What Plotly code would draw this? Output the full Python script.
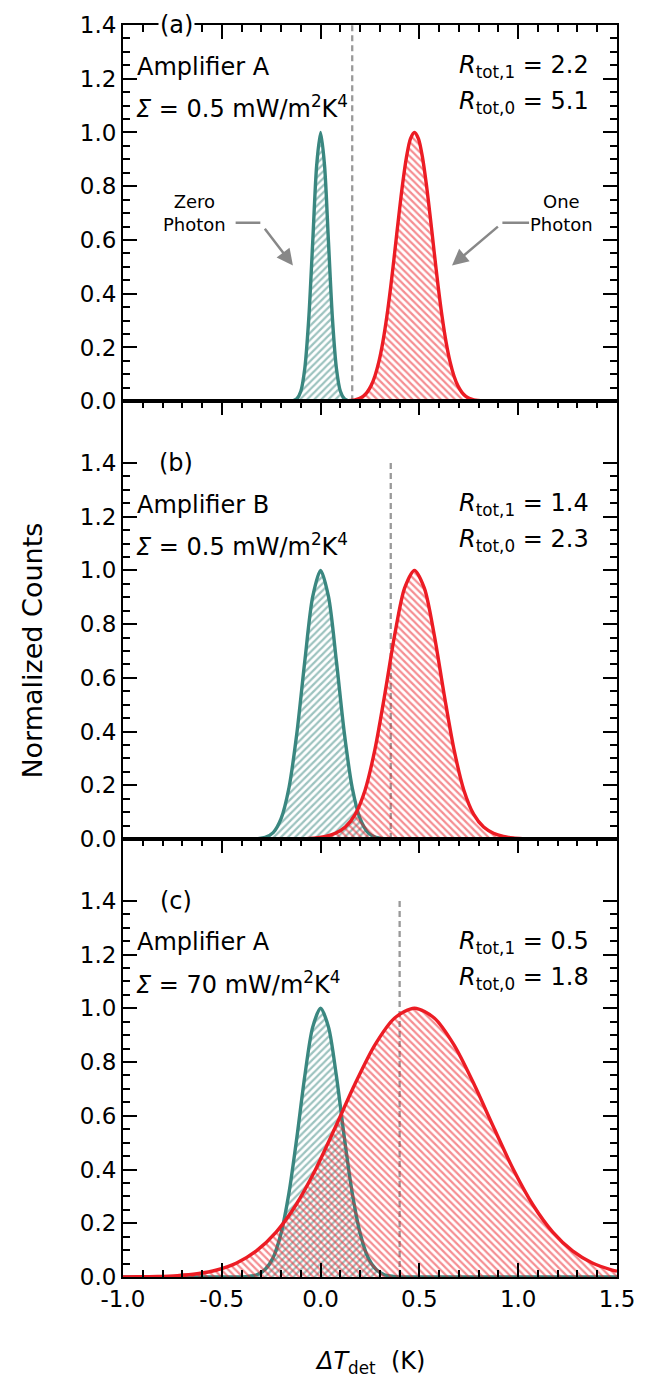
import plotly.graph_objects as go

# ---------------- data ----------------
X_RANGE = [-1.0, 1.5]
Y_TICKS = [0.0, 0.2, 0.4, 0.6, 0.8, 1.0, 1.2, 1.4]
Y_TICK_TEXT = ["0.0", "0.2", "0.4", "0.6", "0.8", "1.0", "1.2", "1.4"]
Y_MINOR = [0.05, 0.1, 0.15, 0.25, 0.3, 0.35, 0.45, 0.5, 0.55, 0.65, 0.7, 0.75,
           0.85, 0.9, 0.95, 1.05, 1.1, 1.15, 1.25, 1.3, 1.35]
X_TICKS = [-1.0, -0.5, 0.0, 0.5, 1.0, 1.5]
X_TICK_TEXT = ["-1.0", "-0.5", "0.0", "0.5", "1.0", "1.5"]

# (a) Amplifier A, Sigma = 0.5 mW/m^2K^4
a_zero_x = [-1.0, -0.30, -0.16, -0.14, -0.12, -0.10, -0.08, -0.06, -0.04, -0.02, 0.0,
            0.02, 0.04, 0.06, 0.08, 0.10, 0.12, 0.14, 0.16, 0.30, 1.5]
a_zero_y = [0.0, 0.0, 0.0, 0.0016, 0.009, 0.037, 0.122, 0.306, 0.591, 0.877, 1.0,
            0.877, 0.591, 0.306, 0.122, 0.037, 0.009, 0.0016, 0.0, 0.0, 0.0]
a_one_x = [0.115, 0.155, 0.175, 0.195, 0.215, 0.235, 0.255, 0.275, 0.295, 0.315, 0.335,
           0.355, 0.375, 0.395, 0.415, 0.435, 0.455, 0.475, 0.495, 0.515, 0.535,
           0.555, 0.575, 0.595, 0.615, 0.635, 0.655, 0.675, 0.695, 0.715, 0.735,
           0.755, 0.775, 0.795, 0.835]
a_one_y = [0.0, 0.0024, 0.005, 0.0097, 0.018, 0.033, 0.057, 0.094, 0.147, 0.220, 0.314,
           0.427, 0.554, 0.685, 0.808, 0.910, 0.977, 1.0, 0.977, 0.910, 0.808,
           0.685, 0.554, 0.427, 0.314, 0.220, 0.147, 0.094, 0.057, 0.033, 0.018,
           0.0097, 0.005, 0.0024, 0.0]
a_threshold = 0.16

# (b) Amplifier B, Sigma = 0.5 mW/m^2K^4
b_zero_x = [-1.0, -0.50, -0.36, -0.32, -0.28, -0.24, -0.20, -0.16, -0.12, -0.08, -0.04, 0.0,
            0.04, 0.08, 0.12, 0.16, 0.20, 0.24, 0.28, 0.32, 0.36, 0.50, 1.5]
b_zero_y = [0.0, 0.0, 0.0, 0.0013, 0.0063, 0.024, 0.076, 0.191, 0.395, 0.662, 0.902, 1.0,
            0.902, 0.662, 0.395, 0.191, 0.076, 0.024, 0.0063, 0.0013, 0.0, 0.0, 0.0]
b_one_x = [-1.0, -0.30, -0.125, -0.075, -0.025, 0.025, 0.075, 0.125, 0.175, 0.225, 0.275,
           0.325, 0.375, 0.425, 0.475, 0.525, 0.575, 0.625, 0.675, 0.725, 0.775,
           0.825, 0.875, 0.925, 0.975, 1.025, 1.075, 1.25, 1.5]
b_one_y = [0.0, 0.0, 0.0, 0.0015, 0.004, 0.010, 0.022, 0.045, 0.092, 0.182, 0.334,
           0.539, 0.760, 0.934, 1.0, 0.934, 0.760, 0.539, 0.334, 0.182, 0.092,
           0.045, 0.022, 0.010, 0.004, 0.0015, 0.0, 0.0, 0.0]
b_threshold = 0.355

# (c) Amplifier A, Sigma = 70 mW/m^2K^4
c_zero_x = [-1.0, -0.60, -0.44, -0.40, -0.36, -0.32, -0.28, -0.24, -0.20, -0.16, -0.12, -0.08,
            -0.04, 0.0, 0.04, 0.08, 0.12, 0.16, 0.20, 0.24, 0.28, 0.32, 0.36, 0.40,
            0.44, 0.60, 1.5]
c_zero_y = [0.0, 0.0, 0.0, 0.0, 0.0028, 0.0095, 0.029, 0.073, 0.163, 0.313, 0.520, 0.748,
            0.930, 1.0, 0.930, 0.748, 0.520, 0.313, 0.163, 0.073, 0.029, 0.0095, 0.0028, 0.0,
            0.0, 0.0, 0.0]
c_one_x = [-1.0, -0.925, -0.825, -0.725, -0.625, -0.525, -0.425, -0.325, -0.225, -0.125,
           -0.025, 0.075, 0.175, 0.275, 0.375, 0.475, 0.575, 0.675, 0.775, 0.875,
           0.975, 1.075, 1.175, 1.275, 1.375, 1.475, 1.5]
c_one_y = [0.0004, 0.0008, 0.0021, 0.0052, 0.012, 0.026, 0.052, 0.097, 0.167, 0.268,
           0.401, 0.558, 0.720, 0.864, 0.964, 1.0, 0.964, 0.864, 0.720, 0.558,
           0.401, 0.268, 0.167, 0.097, 0.052, 0.026, 0.0216]
c_threshold = 0.40

THRESHOLD_SPAN = [0.0, 1.4]

# ---------------- styling ----------------
TEAL = "#3a8780"
RED = "#ec1c24"
GRAY = "#999999"
ARROW_GRAY = "#888888"
FONT = "DejaVu Sans"

W, H = 647, 1378
M_L, M_R, M_T, M_B = 123, 20, 19, 101
plot_h = H - M_T - M_B
px_per_unit = 270.0
h_a = 1.4 * px_per_unit
h_bc = (plot_h - h_a) / 2.0
dom_c = [0.0, h_bc / plot_h]
dom_b = [h_bc / plot_h, 2 * h_bc / plot_h]
dom_a = [2 * h_bc / plot_h, 1.0]
top_bc = h_bc / px_per_unit

fig = go.Figure()

panels = [
    ("x", "y", a_zero_x, a_zero_y, a_one_x, a_one_y, a_threshold),
    ("x2", "y2", b_zero_x, b_zero_y, b_one_x, b_one_y, b_threshold),
    ("x3", "y3", c_zero_x, c_zero_y, c_one_x, c_one_y, c_threshold),
]

for xr, yr, zx, zy, ox, oy, thr in panels:
    # decision threshold
    fig.add_trace(go.Scatter(
        x=[thr, thr], y=THRESHOLD_SPAN, xaxis=xr, yaxis=yr, mode="lines",
        line=dict(color=GRAY, width=2.3, dash="6px,4px"), hoverinfo="skip"))
    # zero-photon distribution
    fig.add_trace(go.Scatter(
        x=zx, y=zy, xaxis=xr, yaxis=yr, mode="lines",
        line=dict(color=TEAL, width=3.4, shape="spline", smoothing=0.8),
        fill="tozeroy", fillcolor="rgba(0,0,0,0)",
        fillpattern=dict(shape="/", fgcolor=TEAL, bgcolor="rgba(0,0,0,0)",
                         size=5, solidity=0.45),
        hoverinfo="skip"))
    # one-photon distribution
    fig.add_trace(go.Scatter(
        x=ox, y=oy, xaxis=xr, yaxis=yr, mode="lines",
        line=dict(color=RED, width=3.4, shape="spline", smoothing=0.8),
        fill="tozeroy", fillcolor="rgba(0,0,0,0)",
        fillpattern=dict(shape="\\", fgcolor=RED, bgcolor="rgba(0,0,0,0)",
                         size=5, solidity=0.45),
        hoverinfo="skip"))

tick_font = dict(family=FONT, size=23, color="black")

def x_axis(anchor, bottom):
    ax = dict(
        domain=[0, 1], anchor=anchor, range=X_RANGE,
        showgrid=False, zeroline=False,
        showline=True, linewidth=2, linecolor="black",
        ticks="inside", ticklen=14, tickwidth=1.5, tickcolor="black",
        tickvals=X_TICKS, ticktext=X_TICK_TEXT,
        minor=dict(dtick=0.1, tick0=0, ticks="inside", ticklen=7,
                   tickwidth=1.5, tickcolor="black"),
        tickfont=tick_font,
    )
    if bottom:
        ax.update(side="bottom", mirror="ticks", showticklabels=True)
    else:
        ax.update(side="top", mirror=True, showticklabels=False)
    return ax

def y_axis(anchor, domain, top):
    return dict(
        domain=domain, anchor=anchor, range=[0, top],
        showgrid=False, zeroline=False,
        showline=True, linewidth=2, linecolor="black", mirror="ticks",
        ticks="inside", ticklen=14, tickwidth=1.5, tickcolor="black",
        tickvals=Y_TICKS, ticktext=Y_TICK_TEXT,
        minor=dict(tickvals=Y_MINOR, ticks="inside", ticklen=7,
                   tickwidth=1.5, tickcolor="black"),
        tickfont=tick_font,
    )

fig.update_layout(
    width=W, height=H,
    margin=dict(l=M_L, r=M_R, t=M_T, b=M_B, pad=0),
    paper_bgcolor="white", plot_bgcolor="white",
    showlegend=False,
    font=dict(family=FONT, size=23, color="black"),
    xaxis=x_axis("y", False),
    xaxis2=x_axis("y2", False),
    xaxis3=x_axis("y3", True),
    yaxis=y_axis("x", dom_a, 1.4),
    yaxis2=y_axis("x2", dom_b, top_bc),
    yaxis3=y_axis("x3", dom_c, top_bc),
)

ann_font = dict(family=FONT, size=24, color="black")
small_font = dict(family=FONT, size=18, color="black")
annotations = []

labels = [
    ("x", "y", "(a)", "Amplifier A", "0.5", "2.2", "5.1"),
    ("x2", "y2", "(b)", "Amplifier B", "0.5", "1.4", "2.3"),
    ("x3", "y3", "(c)", "Amplifier A", "70", "0.5", "1.8"),
]
for xr, yr, tag, amp, sig, r1, r0 in labels:
    annotations += [
        dict(xref=xr, yref=yr, x=-0.73, y=1.4, text=tag, showarrow=False,
             xanchor="center", yanchor="middle", font=ann_font,
             bgcolor="white" if xr == "x" else "rgba(0,0,0,0)", borderpad=1),
        dict(xref=xr, yref=yr, x=-0.94, y=1.245, text=amp, showarrow=False,
             xanchor="left", yanchor="middle", font=ann_font),
        dict(xref=xr, yref=yr, x=-0.945, y=1.095,
             text=f"<i>Σ</i> = {sig} mW/m<sup>2</sup>K<sup>4</sup>", showarrow=False,
             xanchor="left", yanchor="middle", font=ann_font),
        dict(xref=xr, yref=yr, x=1.37, y=1.245,
             text=f"<i>R</i><sub>tot,1</sub> = {r1}", showarrow=False,
             xanchor="right", yanchor="middle", font=ann_font),
        dict(xref=xr, yref=yr, x=1.37, y=1.11,
             text=f"<i>R</i><sub>tot,0</sub> = {r0}", showarrow=False,
             xanchor="right", yanchor="middle", font=ann_font),
    ]

# photon labels with bent arrows in panel (a)
annotations += [
    dict(xref="x", yref="y", x=-0.64, y=0.70, text="Zero<br>Photon", showarrow=False,
         xanchor="center", yanchor="middle", font=small_font, align="center"),
    dict(xref="x", yref="y", x=1.22, y=0.70, text="One<br>Photon", showarrow=False,
         xanchor="center", yanchor="middle", font=small_font, align="center"),
    dict(xref="x", yref="y", x=-0.14, y=0.505, ax=-0.305, ay=0.664,
         axref="x", ayref="y", text=" ", showarrow=True, arrowhead=2,
         arrowsize=1.3, arrowwidth=2.5, arrowcolor=ARROW_GRAY, font=small_font),
    dict(xref="x", yref="y", x=0.665, y=0.505, ax=0.92, ay=0.664,
         axref="x", ayref="y", text=" ", showarrow=True, arrowhead=2,
         arrowsize=1.3, arrowwidth=2.5, arrowcolor=ARROW_GRAY, font=small_font),
]

# axis titles
annotations += [
    dict(xref="paper", yref="paper", x=-0.185, y=0.5, text="Normalized Counts",
         textangle=-90, showarrow=False, xanchor="center", yanchor="middle",
         font=dict(family=FONT, size=27, color="black")),
    dict(xref="paper", yref="paper", x=0.5, y=-0.068,
         text="<i>ΔT</i><sub>det</sub>\u00a0\u00a0(K)", showarrow=False,
         xanchor="center", yanchor="middle",
         font=dict(family=FONT, size=24, color="black")),
]
fig.update_layout(annotations=annotations)

fig.update_layout(shapes=[
    dict(type="line", xref="x", yref="y", x0=-0.43, y0=0.664, x1=-0.305, y1=0.664,
         line=dict(color=ARROW_GRAY, width=2.5)),
    dict(type="line", xref="x", yref="y", x0=1.055, y0=0.664, x1=0.92, y1=0.664,
         line=dict(color=ARROW_GRAY, width=2.5)),
])

fig.write_html("out.html")
